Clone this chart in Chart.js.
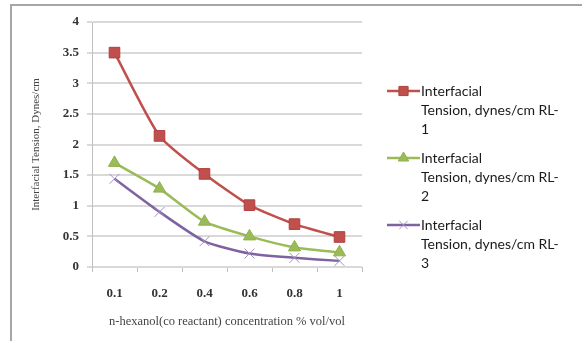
<!DOCTYPE html>
<html lang="en">
<head>
    <meta charset="UTF-8">
    <title>Interfacial Tension vs n-hexanol concentration</title>
    <script src="https://cdn.jsdelivr.net/npm/chart.js"></script>
    <style>
        html, body { margin: 0; padding: 0; background: #fff; }
        canvas { display: block; }
    </style>
</head>
<body>
<canvas id="tensionChart" width="588" height="341"></canvas>

<script>
    // concentrations of n-hexanol (co reactant), % vol/vol
    const concentrations = ['0.1', '0.2', '0.4', '0.6', '0.8', '1'];

    // interfacial tension, dynes/cm
    const tensionRL1 = [3.5, 2.14, 1.52, 1.01, 0.7, 0.49];
    const tensionRL2 = [1.7, 1.28, 0.74, 0.5, 0.32, 0.24];
    const tensionRL3 = [1.44, 0.9, 0.42, 0.22, 0.15, 0.1];

    const seriesNames = [
        ['Interfacial', 'Tension, dynes/cm RL-', '1'],
        ['Interfacial', 'Tension, dynes/cm RL-', '2'],
        ['Interfacial', 'Tension, dynes/cm RL-', '3']
    ];

    const yTicks = [0, 0.5, 1, 1.5, 2, 2.5, 3, 3.5, 4];

    const serifFont = '"Liberation Serif", "DejaVu Serif", serif';
    const sansFont = 'Lato, "Open Sans", sans-serif';

    // outer border of the figure (left and top edges only)
    const framePlugin = {
        id: 'frame',
        beforeDraw(chart) {
            const ctx = chart.ctx;
            ctx.save();
            ctx.strokeStyle = '#a6a6a6';
            ctx.lineWidth = 2;
            ctx.beginPath();
            ctx.moveTo(11, 341);
            ctx.lineTo(11, 5);
            ctx.lineTo(582, 5);
            ctx.stroke();
            ctx.restore();
        }
    };

    // legend on the right with wrapped labels
    const sideLegend = {
        id: 'sideLegend',
        afterDraw(chart) {
            const ctx = chart.ctx;
            const centers = [91, 158, 225];
            const lineGap = 19.3;
            ctx.save();
            chart.data.datasets.forEach((ds, i) => {
                const y = centers[i];
                ctx.strokeStyle = ds.borderColor;
                ctx.lineWidth = 2.5;
                ctx.beginPath();
                ctx.moveTo(387, y);
                ctx.lineTo(420, y);
                ctx.stroke();
                if (Chart.helpers && Chart.helpers.drawPoint) {
                    ctx.fillStyle = ds.pointBackgroundColor;
                    ctx.strokeStyle = ds.pointBorderColor;
                    ctx.lineWidth = ds.pointBorderWidth;
                    Chart.helpers.drawPoint(ctx, {
                        pointStyle: ds.pointStyle,
                        radius: ds.pointRadius - 1,
                        rotation: 0,
                        borderWidth: ds.pointBorderWidth
                    }, 403.5, y);
                }
                ctx.fillStyle = '#1a1a1a';
                ctx.font = '14px ' + sansFont;
                ctx.textAlign = 'left';
                ctx.textBaseline = 'middle';
                seriesNames[i].forEach((line, j) => {
                    ctx.fillText(line, 421, y + j * lineGap);
                });
            });
            ctx.restore();
        }
    };

    const ctx = document.getElementById('tensionChart').getContext('2d');

    new Chart(ctx, {
        type: 'line',
        data: {
            labels: concentrations,
            datasets: [
                {
                    label: seriesNames[0].join(' '),
                    data: tensionRL1,
                    borderColor: '#c0504d',
                    borderWidth: 2.5,
                    pointStyle: 'rect',
                    pointRadius: 7.5,
                    pointBackgroundColor: '#c0504d',
                    pointBorderColor: '#b0403d',
                    pointBorderWidth: 1,
                    tension: 0.2
                },
                {
                    label: seriesNames[1].join(' '),
                    data: tensionRL2,
                    borderColor: '#9bbb59',
                    borderWidth: 2.5,
                    pointStyle: 'triangle',
                    pointRadius: 7,
                    pointBackgroundColor: '#9bbb59',
                    pointBorderColor: '#8fb04d',
                    pointBorderWidth: 1,
                    tension: 0.2
                },
                {
                    label: seriesNames[2].join(' '),
                    data: tensionRL3,
                    borderColor: '#7f63a1',
                    borderWidth: 2.5,
                    pointStyle: 'crossRot',
                    pointRadius: 7,
                    pointBackgroundColor: '#a592c4',
                    pointBorderColor: '#a592c4',
                    pointBorderWidth: 1,
                    tension: 0.2
                }
            ]
        },
        options: {
            responsive: false,
            devicePixelRatio: 1,
            animation: false,
            layout: {
                padding: { left: 0, top: 22, right: 226, bottom: 0 }
            },
            plugins: {
                legend: { display: false },
                tooltip: { enabled: false }
            },
            scales: {
                x: {
                    offset: true,
                    afterFit(scale) { scale.height = 74; },
                    grid: {
                        offset: true,
                        drawOnChartArea: false,
                        drawTicks: true,
                        tickLength: 5,
                        color: '#bfbfbf'
                    },
                    border: { display: false },
                    ticks: {
                        padding: 14,
                        color: '#333',
                        font: { family: serifFont, size: 13, weight: 'bold' }
                    },
                    title: {
                        display: true,
                        text: 'n-hexanol(co reactant) concentration % vol/vol',
                        color: '#444',
                        padding: { top: 0, bottom: 12 },
                        font: { family: serifFont, size: 12.5 }
                    }
                },
                y: {
                    min: 0,
                    max: 4,
                    afterFit(scale) { scale.width = 92; },
                    afterBuildTicks(scale) {
                        scale.ticks = yTicks.map(v => ({ value: v }));
                    },
                    grid: {
                        color: '#d9d9d9',
                        lineWidth: 2,
                        tickLength: 5
                    },
                    border: { display: true, color: '#bfbfbf', width: 1 },
                    ticks: {
                        padding: 8,
                        color: '#333',
                        font: { family: serifFont, size: 13, weight: 'bold' },
                        callback: v => String(v)
                    },
                    title: {
                        display: true,
                        text: 'Interfacial Tension, Dynes/cm',
                        color: '#444',
                        padding: { top: 30, bottom: 0 },
                        font: { family: serifFont, size: 11 }
                    }
                }
            }
        },
        plugins: [framePlugin, sideLegend]
    });
</script>
</body>
</html>
